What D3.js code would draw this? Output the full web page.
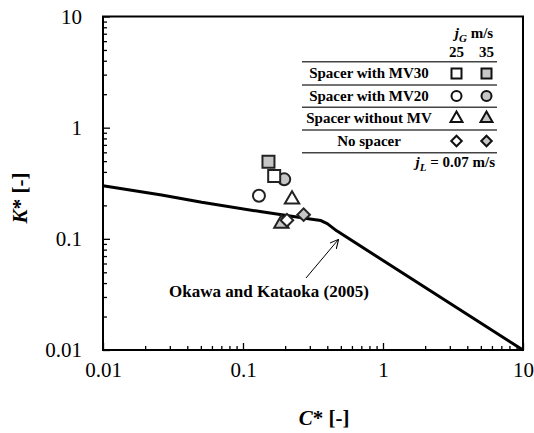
<!DOCTYPE html>
<html>
<head>
<meta charset="utf-8">
<script src="https://cdn.jsdelivr.net/npm/d3@7"></script>
<style>
  body { margin: 0; background: #fff; }
  svg { font-family: 'Liberation Serif', 'Times New Roman', serif; }
</style>
</head>
<body>
<main></main>
<script>
const width = 534;
const height = 433;
const margin = { left: 103, right: 11, top: 16.5, bottom: 83 };

// data
const series = ['Spacer with MV30', 'Spacer with MV20', 'Spacer without MV', 'No spacer'];
const shapes = ['square', 'circle', 'triangle', 'diamond'];
const drawOrder = [3, 0, 1, 2]; // squares on top, circles at the back
const jG = [25, 35];
const cStar25 = [0.167, 0.130, 0.224, 0.206];
const kStar25 = [0.367, 0.244, 0.226, 0.147];
const cStar35 = [0.152, 0.197, 0.188, 0.271];
const kStar35 = [0.493, 0.343, 0.137, 0.165];

const okawaC = [0.01, 0.0262, 0.0507, 0.136, 0.31, 0.36, 0.40, 0.467, 10];
const okawaK = [0.300, 0.248, 0.213, 0.175, 0.150, 0.146, 0.137, 0.118, 0.01];

const majorTicks = [0.01, 0.1, 1, 10];
const tickLabels = ['0.01', '0.1', '1', '10'];

const grayFill = '#c6c6c6';

const createSvg = () => {
    return d3.select('main')
             .append('svg')
             .attr('width', width)
             .attr('height', height)
}

const svg = createSvg();

const xScale = d3.scaleLog().domain([0.01, 10]).range([margin.left, width - margin.right]);
const yScale = d3.scaleLog().domain([0.01, 10]).range([height - margin.bottom, margin.top]);

const minorTicks = [];
[0.01, 0.1, 1].forEach(d => { for (let i = 2; i < 10; i++) minorTicks.push(d * i) });

const createAxis = () => {
    const fmt = (d) => tickLabels[majorTicks.indexOf(d)];

    // minor ticks
    svg.append('g')
       .attr('transform', 'translate(0,' + (height - margin.bottom) + ')')
       .call(d3.axisBottom(xScale).tickValues(minorTicks).tickSize(-4).tickFormat(''))
    svg.append('g')
       .attr('transform', 'translate(' + margin.left + ',0)')
       .call(d3.axisLeft(yScale).tickValues(minorTicks).tickSize(-4).tickFormat(''))

    svg.append('g')
       .attr('id', 'x-axis')
       .attr('transform', 'translate(0,' + (height - margin.bottom) + ')')
       .call(d3.axisBottom(xScale).tickValues(majorTicks).tickSize(-7).tickPadding(12).tickFormat(fmt))

    svg.append('g')
       .attr('id', 'y-axis')
       .attr('transform', 'translate(' + margin.left + ',0)')
       .call(d3.axisLeft(yScale).tickValues(majorTicks).tickSize(-7).tickPadding(21).tickFormat(fmt))

    svg.selectAll('.domain').remove();
    svg.selectAll('.tick line').attr('stroke', '#000').attr('stroke-width', 1.3);
    svg.selectAll('.tick text')
       .attr('font-family', "'Liberation Serif', serif")
       .attr('font-size', 21)
       .attr('fill', '#000');

    // frame
    svg.append('rect')
       .attr('x', margin.left)
       .attr('y', margin.top)
       .attr('width', width - margin.left - margin.right)
       .attr('height', height - margin.top - margin.bottom)
       .attr('fill', 'none')
       .attr('stroke', '#000')
       .attr('stroke-width', 2);

    // axis titles
    svg.append('text')
       .attr('x', 324)
       .attr('y', 425)
       .attr('text-anchor', 'middle')
       .attr('font-size', 21)
       .attr('font-weight', 'bold')
       .html('<tspan font-style="italic">C</tspan>* [-]');

    svg.append('text')
       .attr('transform', 'translate(27,198) rotate(-90)')
       .attr('text-anchor', 'middle')
       .attr('font-size', 21)
       .attr('font-weight', 'bold')
       .html('<tspan font-style="italic">K</tspan>* [-]');
}

const symbolPath = (shape, s) => {
    if (shape === 'square') return d3.symbol(d3.symbolSquare, s * s)();
    if (shape === 'circle') return d3.symbol(d3.symbolCircle, Math.PI * s * s / 4)();
    if (shape === 'triangle') return d3.symbol(d3.symbolTriangle, s * s * 0.62)();
    return d3.symbol(d3.symbolSquare, s * s * 0.55)();
}

const markerTransform = (shape, x, y) => {
    return 'translate(' + x + ',' + y + ')' + (shape === 'diamond' ? ' rotate(45)' : '');
}

const createLine = () => {
    const pts = okawaC.map((c, i) => [c, okawaK[i]]);
    svg.append('path')
       .datum(pts)
       .attr('fill', 'none')
       .attr('stroke', '#000')
       .attr('stroke-width', 3)
       .attr('stroke-linejoin', 'round')
       .attr('d', d3.line().x(d => xScale(d[0])).y(d => yScale(d[1])));

    svg.append('defs').append('marker')
       .attr('id', 'arrow')
       .attr('viewBox', '0 0 10 10')
       .attr('refX', 9).attr('refY', 5)
       .attr('markerWidth', 9).attr('markerHeight', 9)
       .attr('markerUnits', 'userSpaceOnUse')
       .attr('orient', 'auto')
       .append('path')
       .attr('d', 'M0,0 L10,5 L0,10')
       .attr('fill', 'none')
       .attr('stroke', '#000')
       .attr('stroke-width', 1.2);

    svg.append('line')
       .attr('x1', 306).attr('y1', 278)
       .attr('x2', 338).attr('y2', 240)
       .attr('stroke', '#000')
       .attr('stroke-width', 1)
       .attr('marker-end', 'url(#arrow)');

    svg.append('text')
       .attr('x', 269)
       .attr('y', 297)
       .attr('text-anchor', 'middle')
       .attr('font-size', 17)
       .attr('font-weight', 'bold')
       .text('Okawa and Kataoka (2005)');
}

const createPoints = () => {
    const pts = [];
    series.forEach((name, i) => {
        pts.push({ shape: shapes[i], c: cStar35[i], k: kStar35[i], fill: grayFill, order: drawOrder[i] });
        pts.push({ shape: shapes[i], c: cStar25[i], k: kStar25[i], fill: '#fff', order: drawOrder[i] });
    });
    pts.sort((a, b) => a.order - b.order);

    svg.selectAll('.dot')
       .data(pts)
       .enter()
       .append('path')
       .attr('class', 'dot')
       .attr('d', d => symbolPath(d.shape, 12))
       .attr('transform', d => markerTransform(d.shape, xScale(d.c), yScale(d.k)))
       .attr('fill', d => d.fill)
       .attr('stroke', '#222')
       .attr('stroke-width', 2);
}

const createLegend = () => {
    const lg = svg.append('g');
    const rowY = [73.5, 96, 118.5, 141];
    const lineY = [61.7, 85, 107.3, 130, 152.7];
    const colX = [456.5, 486.5];

    lg.append('text')
      .attr('x', 474).attr('y', 38)
      .attr('text-anchor', 'middle')
      .attr('font-size', 15).attr('font-weight', 'bold')
      .html('<tspan font-style="italic">j</tspan><tspan font-style="italic" font-size="11" dy="4">G</tspan><tspan dy="-4"> m/s</tspan>');

    lg.selectAll('.jg')
      .data(jG)
      .enter()
      .append('text')
      .attr('x', (d, i) => colX[i]).attr('y', 56.5)
      .attr('text-anchor', 'middle')
      .attr('font-size', 15).attr('font-weight', 'bold')
      .text(d => d);

    lg.selectAll('.sep')
      .data(lineY)
      .enter()
      .append('line')
      .attr('x1', 302).attr('x2', 497)
      .attr('y1', d => d).attr('y2', d => d)
      .attr('stroke', '#444')
      .attr('stroke-width', 1.5);

    lg.selectAll('.name')
      .data(series)
      .enter()
      .append('text')
      .attr('x', 369).attr('y', (d, i) => rowY[i])
      .attr('dy', '0.33em')
      .attr('text-anchor', 'middle')
      .attr('font-size', 15).attr('font-weight', 'bold')
      .text(d => d);

    series.forEach((name, i) => {
        [ '#fff', grayFill ].forEach((fill, j) => {
            lg.append('path')
              .attr('d', symbolPath(shapes[i], 10))
              .attr('transform', markerTransform(shapes[i], colX[j], rowY[i]))
              .attr('fill', fill)
              .attr('stroke', '#111')
              .attr('stroke-width', 2);
        });
    });

    lg.append('text')
      .attr('x', 495).attr('y', 166.5)
      .attr('text-anchor', 'end')
      .attr('font-size', 15).attr('font-weight', 'bold')
      .html('<tspan font-style="italic">j</tspan><tspan font-style="italic" font-size="11" dy="4">L</tspan><tspan dy="-4"> = 0.07 m/s</tspan>');
}

const driver = () => {
    createAxis();
    createLine();
    createPoints();
    createLegend();
}
driver();
</script>
</body>
</html>
